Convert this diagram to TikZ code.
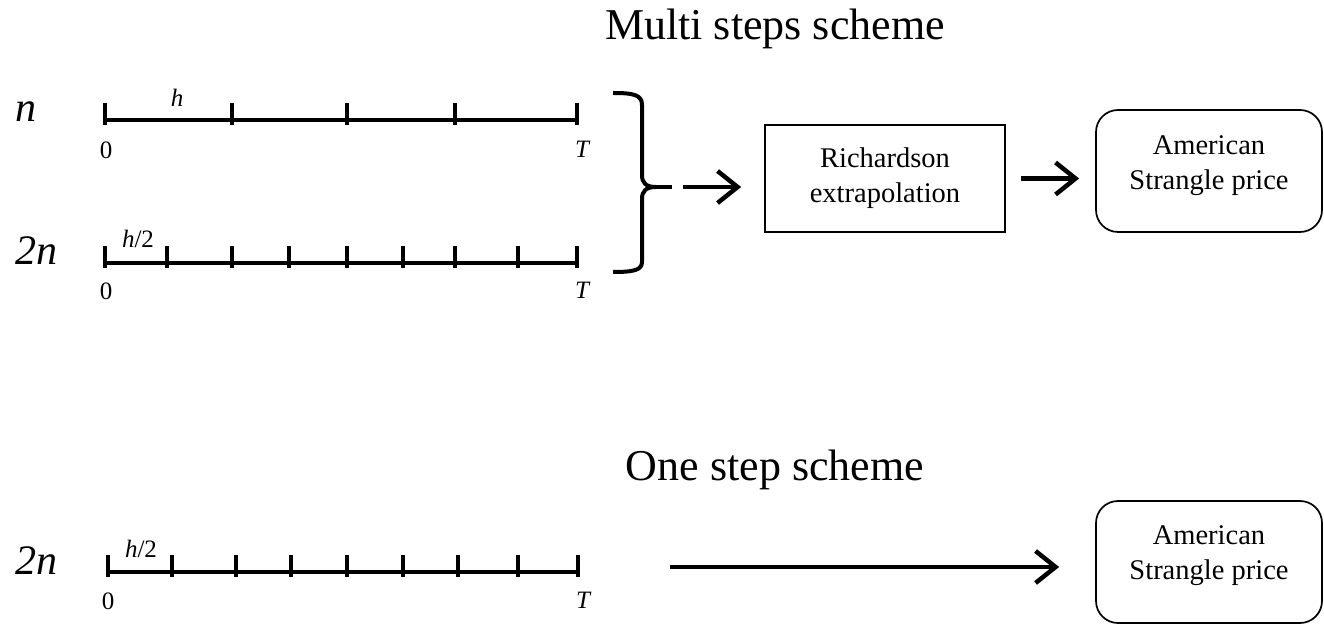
\documentclass[tikz,border=0pt]{standalone}
\usepackage{fontspec}
\setmainfont{Liberation Serif}
\usetikzlibrary{arrows.meta}
\begin{document}
\begin{tikzpicture}[x=1pt,y=1pt,
  axisline/.style={line width=3.3pt},
  arr/.style={line width=4.5pt,-{Straight Barb[length=20pt,width=32pt]}},
  bracestyle/.style={line width=4pt, line join=miter},
  ttl/.style={font=\fontsize{44}{48}\selectfont, anchor=base},
  lab/.style={font=\fontsize{42}{46}\selectfont\itshape, anchor=base},
  smalllab/.style={font=\fontsize{25}{28}\selectfont, anchor=base},
  boxtxt/.style={font=\fontsize{28.5}{35}\selectfont, align=center},
  sqbox/.style={draw, line width=1.7pt, minimum width=240pt, minimum height=107pt},
  rbox/.style={draw, line width=1.7pt, rounded corners=22pt, minimum width=226pt, minimum height=122pt}
]
\useasboundingbox (0,0) rectangle (1324,624);
% titles
\node[ttl] (t1) at (775,584) {Multi steps scheme};
\node[ttl] (t2) at (775,144) {One step scheme};
% row labels
\node[lab] (n1) at (26,502) {n};
\node[lab] (n2) at (36,359) {2n};
\node[lab] (n3) at (36,50) {2n};
% timeline n
\draw[axisline] (105,504) -- (577,504);
\foreach \x in {105,232,347,455,577} \draw[axisline] (\x,499) -- (\x,521);
\node[smalllab] (h1) at (177,517) {\itshape h};
\node[smalllab] (z1) at (106,465) {0};
\node[smalllab] (T1) at (582,466) {\itshape T};
% timeline 2n
\draw[axisline] (105,361) -- (577,361);
\foreach \x in {105,167,232,289,347,403,455,518,577} \draw[axisline] (\x,356) -- (\x,378);
\node[smalllab] (h2) at (138,376) {\itshape h\upshape/2};
\node[smalllab] (z2) at (106,324) {0};
\node[smalllab] (T2) at (582,325) {\itshape T};
% timeline bottom 2n
\draw[axisline] (108,52) -- (578,52);
\foreach \x in {108,172,236,291,347,403,458,518,578} \draw[axisline] (\x,47) -- (\x,69);
\node[smalllab] (h3) at (141,67) {\itshape h\upshape/2};
\node[smalllab] (z3) at (108,15) {0};
\node[smalllab] (T3) at (583,16) {\itshape T};
% brace
\draw[bracestyle] (613,531) .. controls (634,531) and (642,529) .. (642,519)
   -- (642,449) .. controls (642,441) and (646,437) .. (656,437)
   .. controls (646,437) and (642,433) .. (642,425)
   -- (642,362) .. controls (642,354) and (634,352) .. (613,352);
\draw[bracestyle] (654,437) -- (672,437);
\coordinate (bt) at (683,437);
% boxes
\node[sqbox, boxtxt] (rich) at (885,445.5) {Richardson\\extrapolation};
\node[rbox] (am1) at (1209,453) {};
\node[boxtxt] (am1t) at (1209,458) {American\\Strangle price};
\node[rbox] (am2) at (1209,62) {};
\node[boxtxt] (am2t) at (1209,68) {American\\Strangle price};
\coordinate (ls) at (670,57);
% arrows
\draw[arr, shorten >=23pt] (bt) -- (bt -| rich.west);
\draw[arr, shorten <=15pt, shorten >=16pt] (rich.east) -- (rich.east -| am1.west);
\draw[arr, shorten >=36pt] (ls) -- (ls -| am2.west);
\end{tikzpicture}
\end{document}
